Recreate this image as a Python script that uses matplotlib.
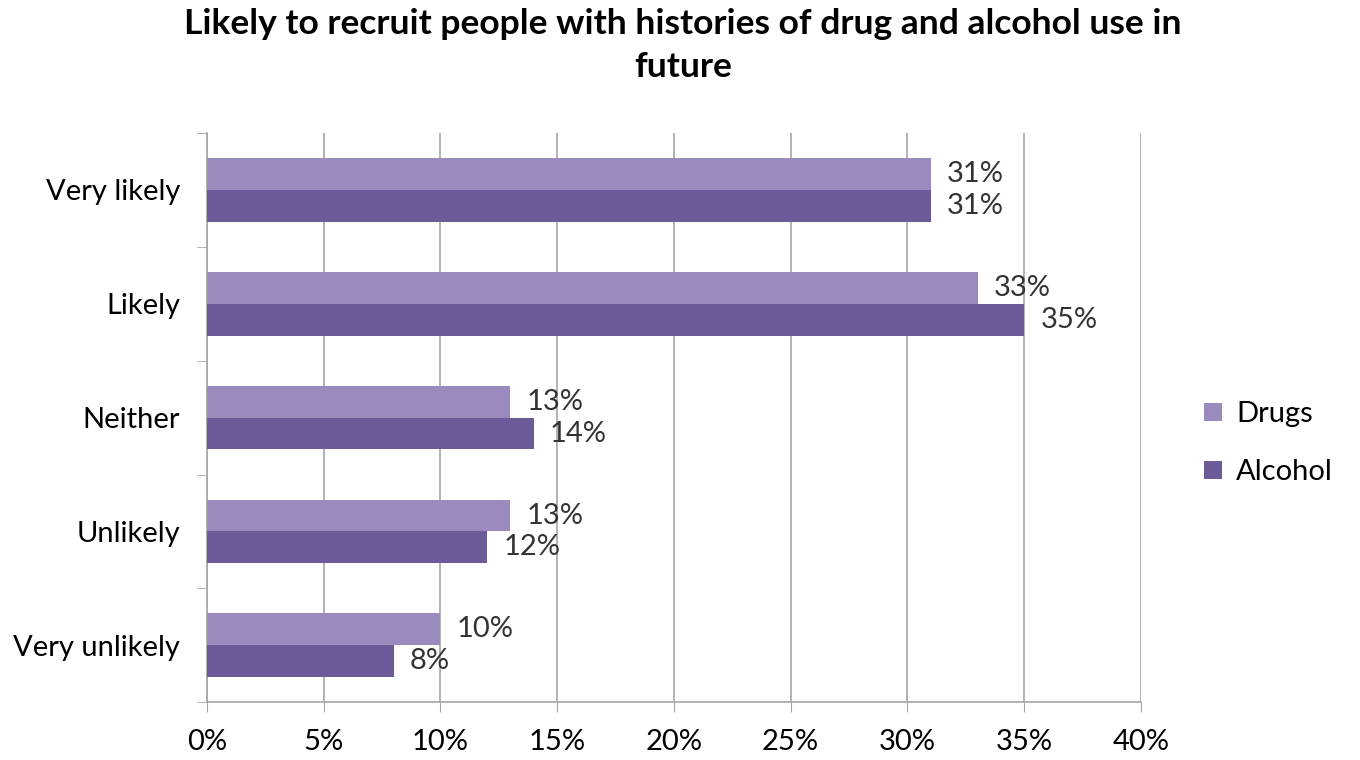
import matplotlib.pyplot as plt
import numpy as np
from matplotlib.ticker import FixedLocator

categories = ["Very likely", "Likely", "Neither", "Unlikely", "Very unlikely"]
drugs = [31, 33, 13, 13, 10]
alcohol = [31, 35, 14, 12, 8]
xticks = [0, 5, 10, 15, 20, 25, 30, 35, 40]

c_drugs = "#9a8abd"
c_alcohol = "#6d5a99"
grid_col = "#a6a6a6"

plt.rcParams["font.family"] = ["Lato", "DejaVu Sans"]

fig = plt.figure(figsize=(13.6, 7.6), dpi=100)
ax = fig.add_axes([0.152, 0.076, 0.687, 0.749])

y = np.arange(len(categories))
h = 0.28
ax.barh(y - h / 2, drugs, height=h, color=c_drugs, label="Drugs", zorder=3)
ax.barh(y + h / 2, alcohol, height=h, color=c_alcohol, label="Alcohol", zorder=3)

for i in range(len(categories)):
    ax.text(drugs[i] + 0.7, y[i] - h / 2, f"{drugs[i]}%", va="center", ha="left",
            fontsize=21, color="#333333", zorder=4)
    ax.text(alcohol[i] + 0.7, y[i] + h / 2, f"{alcohol[i]}%", va="center", ha="left",
            fontsize=21, color="#333333", zorder=4)

ax.set_xlim(0, 40)
ax.set_ylim(len(categories) - 0.5, -0.5)
ax.set_xticks(xticks)
ax.set_xticklabels([f"{t}%" for t in xticks], fontsize=21)
ax.set_yticks(y)
ax.set_yticklabels(categories, fontsize=21)
ax.yaxis.set_minor_locator(FixedLocator(np.arange(-0.5, len(categories), 1)))
ax.tick_params(axis="y", which="major", length=0, pad=19)
ax.tick_params(axis="y", which="minor", length=7, color=grid_col, direction="out")
ax.tick_params(axis="x", length=7, color=grid_col, direction="out", pad=12)

ax.grid(axis="x", color=grid_col, linewidth=1.2, zorder=0)
for s in ["top", "right"]:
    ax.spines[s].set_visible(False)
for s in ["left", "bottom"]:
    ax.spines[s].set_color(grid_col)
    ax.spines[s].set_linewidth(1.2)

fig.suptitle("Likely to recruit people with histories of drug and alcohol use in\nfuture",
             fontsize=25.5, fontweight="bold", y=0.99, x=0.502, linespacing=1.45)

ax.legend(loc="center left", bbox_to_anchor=(1.055, 0.455), frameon=False, fontsize=21,
          handlelength=0.6, handleheight=0.6, labelspacing=1.1, handletextpad=0.5,
          borderaxespad=0)

fig.savefig("out.png", dpi=100)
